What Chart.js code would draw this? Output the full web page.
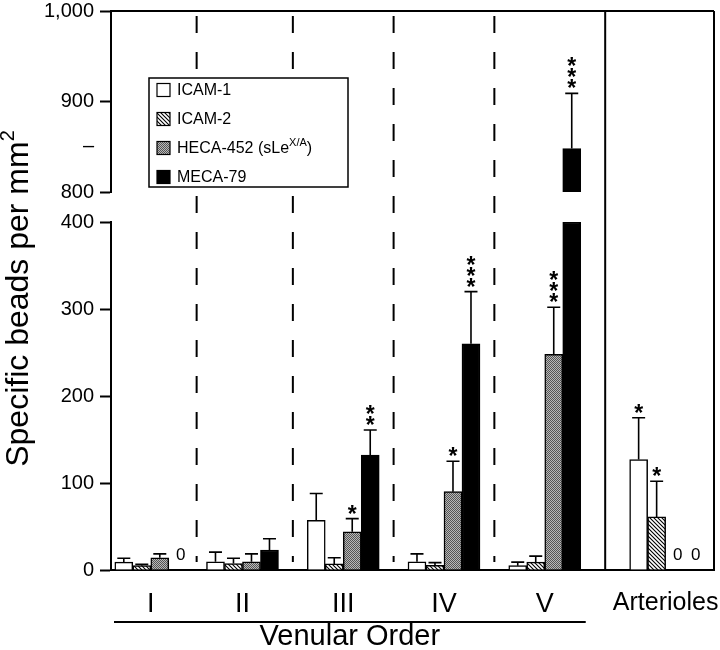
<!DOCTYPE html>
<html>
<head>
<meta charset="utf-8">
<script src="https://cdn.jsdelivr.net/npm/chart.js@4.4.1/dist/chart.umd.min.js"></script>
<style>
  body { margin: 0; background: #fff; }
  #wrap { position: relative; width: 720px; height: 650px; }
</style>
</head>
<body>
<div id="wrap"><canvas id="beadsChart"></canvas></div>
<script>
// data
const categories = ['I', 'II', 'III', 'IV', 'V', 'Arterioles'];
const seriesNames = ['ICAM-1', 'ICAM-2', 'HECA-452 (sLe^X/A^)', 'MECA-79'];

const icam1 = [9, 9.5, 57, 9.5, 5, 127];
const icam1Err = [4.5, 11, 31, 9, 4, 48];
const icam2 = [5, 7.5, 7, 5.5, 9, 61];
const icam2Err = [1.5, 6, 7, 3, 7, 41];
const heca = [14, 9.5, 44, 90, 248, 0];
const hecaErr = [4.5, 9, 15, 35, 54, 0];
const meca = [0, 23, 132, 260, 848, 0];
const mecaErr = [0, 13, 29, 60, 61, 0];

// number of asterisks above each bar
const icam1Stars = [0, 0, 0, 0, 0, 1];
const icam2Stars = [0, 0, 0, 0, 0, 1];
const hecaStars = [0, 0, 1, 1, 3, 0];
const mecaStars = [0, 0, 2, 3, 3, 0];

const lowerTicks = [0, 100, 200, 300, 400];
const upperTicks = [800, 850, 900, 1000];
const upperTickLabels = ['800', '\u2013', '900', '1,000'];

// layout
const groupX = [1.09, 2, 3, 4, 5, 6.2];
const LOW_MAX = 400, HIGH_MIN = 800, HIGH_MAX = 1000;
const FONT = '"Liberation Sans", Arial, Helvetica, sans-serif';

function makePattern(size, draw) {
    const c = document.createElement('canvas');
    c.width = size;
    c.height = size;
    const g = c.getContext('2d');
    draw(g, size);
    return g.createPattern(c, 'repeat');
}

const hatch = makePattern(4, (g, s) => {
    g.fillStyle = '#fff';
    g.fillRect(0, 0, s, s);
    g.strokeStyle = '#000';
    g.lineWidth = 1.1;
    g.beginPath();
    g.moveTo(-1, -1); g.lineTo(s + 1, s + 1);
    g.moveTo(-1, s - 1); g.lineTo(1, s + 1);
    g.moveTo(s - 1, -1); g.lineTo(s + 1, 1);
    g.stroke();
});

const stipple = makePattern(2, (g) => {
    g.fillStyle = '#b8b8b8';
    g.fillRect(0, 0, 2, 2);
    g.fillStyle = '#555';
    g.fillRect(0, 0, 1, 1);
    g.fillRect(1, 1, 1, 1);
});

const fills = ['#ffffff', hatch, stipple, '#000000'];
const values = [icam1, icam2, heca, meca];
const errors = [icam1Err, icam2Err, hecaErr, mecaErr];
const stars = [icam1Stars, icam2Stars, hecaStars, mecaStars];

const datasets = values.map((vals, i) => ({
    label: seriesNames[i].replace(/\^/g, ''),
    data: vals.map((v, j) => ({ x: groupX[j], y: Math.min(v, LOW_MAX) })),
    backgroundColor: fills[i],
    borderColor: '#000',
    borderWidth: 1.5,
    barThickness: 18,
    yAxisID: 'y',
    stack: 's' + i
}));

// top part of the broken MECA-79 bar
datasets.push({
    label: 'MECA-79 (upper)',
    data: meca.map((v, j) => ({ x: groupX[j], y: v > HIGH_MIN ? [HIGH_MIN, v] : null })),
    backgroundColor: '#000',
    borderColor: '#000',
    borderWidth: 1.5,
    barThickness: 18,
    yAxisID: 'yTop',
    stack: 's3'
});

function drawStars(ctx, x, capY, n) {
    ctx.font = 'bold 23px ' + FONT;
    ctx.textAlign = 'center';
    ctx.textBaseline = 'alphabetic';
    for (let k = 0; k < n; k++) {
        const cy = capY - 10 - 11 * k;
        ctx.fillText('*', x, cy + 13);
    }
}

function drawRichText(ctx, text, x, y, size) {
    // parts between ^ are superscript
    const parts = text.split('^');
    let cx = x;
    parts.forEach((p, k) => {
        const sup = k % 2 === 1;
        ctx.font = (sup ? Math.round(size * 0.7) : size) + 'px ' + FONT;
        ctx.fillText(p, cx, sup ? y - size * 0.4 : y);
        cx += ctx.measureText(p).width;
    });
}

const decorations = {
    id: 'decorations',
    beforeDatasetsDraw(chart) {
        const { ctx, chartArea: a, scales: { x, y } } = chart;
        ctx.save();
        ctx.strokeStyle = '#000';
        ctx.lineWidth = 2;
        // frame: top, right, arterioles separator
        const sepX = x.getPixelForValue((groupX[4] + groupX[5]) / 2);
        ctx.beginPath();
        ctx.moveTo(a.left, a.top);
        ctx.lineTo(a.right, a.top);
        ctx.moveTo(a.right, a.top);
        ctx.lineTo(a.right, a.bottom);
        ctx.moveTo(sepX, a.top);
        ctx.lineTo(sepX, a.bottom);
        ctx.stroke();
        // dashed separators between venular orders
        ctx.setLineDash([17, 19]);
        ctx.lineDashOffset = -5;
        for (let k = 0; k < 4; k++) {
            const px = x.getPixelForValue((groupX[k] + groupX[k + 1]) / 2);
            ctx.beginPath();
            ctx.moveTo(px, a.top);
            ctx.lineTo(px, y.getPixelForValue(0) - 8);
            ctx.stroke();
        }
        ctx.restore();
    },
    afterDatasetsDraw(chart) {
        const { ctx, scales: { y, yTop } } = chart;
        const upperMeta = chart.getDatasetMeta(4);
        ctx.save();
        ctx.strokeStyle = '#000';
        ctx.fillStyle = '#000';
        ctx.lineWidth = 1.6;
        values.forEach((vals, i) => {
            const meta = chart.getDatasetMeta(i);
            vals.forEach((v, j) => {
                const el = meta.data[j];
                if (v === 0) {
                    ctx.font = '17px ' + FONT;
                    ctx.textAlign = 'center';
                    ctx.textBaseline = 'middle';
                    ctx.fillText('0', el.x + 3, y.getPixelForValue(0) - 15);
                    return;
                }
                const high = v > LOW_MAX;
                const scale = high ? yTop : y;
                const bar = high ? upperMeta.data[j] : el;
                const topY = scale.getPixelForValue(v);
                const capY = scale.getPixelForValue(v + errors[i][j]);
                ctx.beginPath();
                ctx.moveTo(bar.x, topY);
                ctx.lineTo(bar.x, capY);
                ctx.moveTo(bar.x - 6.5, capY);
                ctx.lineTo(bar.x + 6.5, capY);
                ctx.stroke();
                if (stars[i][j]) drawStars(ctx, bar.x, capY, stars[i][j]);
            });
        });
        ctx.restore();
    },
    afterDraw(chart) {
        const { ctx, chartArea: a, scales: { x } } = chart;
        ctx.save();
        ctx.fillStyle = '#000';
        ctx.strokeStyle = '#000';

        // y axis title
        ctx.save();
        ctx.translate(19, (a.top + a.bottom) / 2 + 8);
        ctx.rotate(-Math.PI / 2);
        ctx.textBaseline = 'middle';
        ctx.font = '32px ' + FONT;
        const base = 'Specific beads per mm';
        const wBase = ctx.measureText(base).width;
        ctx.font = '20px ' + FONT;
        const wSup = ctx.measureText('2').width;
        ctx.textAlign = 'left';
        ctx.font = '32px ' + FONT;
        ctx.fillText(base, -(wBase + wSup) / 2, 0);
        ctx.font = '20px ' + FONT;
        ctx.fillText('2', -(wBase + wSup) / 2 + wBase, -11);
        ctx.restore();

        // venular order bracket
        const lineL = a.left + 3;
        const lineR = x.getPixelForValue(groupX[4]) + 41;
        ctx.lineWidth = 2;
        ctx.beginPath();
        ctx.moveTo(lineL, a.bottom + 52);
        ctx.lineTo(lineR, a.bottom + 52);
        ctx.stroke();
        ctx.font = '29px ' + FONT;
        ctx.textAlign = 'center';
        ctx.textBaseline = 'middle';
        ctx.fillText('Venular Order', (lineL + lineR) / 2, a.bottom + 67);

        // legend box
        const lx = a.left + 38, ly = a.top + 67, lw = 199, lh = 109;
        ctx.fillStyle = '#fff';
        ctx.fillRect(lx, ly, lw, lh);
        ctx.lineWidth = 1.5;
        ctx.strokeRect(lx, ly, lw, lh);
        seriesNames.forEach((name, i) => {
            const cy = ly + 12 + i * 29;
            ctx.fillStyle = fills[i];
            ctx.fillRect(lx + 8, cy - 6.5, 13, 13);
            ctx.lineWidth = 1.2;
            ctx.strokeRect(lx + 8, cy - 6.5, 13, 13);
            ctx.fillStyle = '#000';
            ctx.textAlign = 'left';
            ctx.textBaseline = 'middle';
            drawRichText(ctx, name, lx + 28, cy + 1, 16);
        });
        ctx.restore();
    }
};

const noLabelPadding = s => {
    s.paddingTop = 0;
    s.paddingBottom = 0;
};

const leftAxis = (extra) => Object.assign({
    type: 'linear',
    position: 'left',
    stack: 'left',
    afterFit: s => { s.width = 111; noLabelPadding(s); },
    border: { color: '#000', width: 2 },
    grid: { display: true, drawOnChartArea: false, tickLength: 11, tickWidth: 2, tickColor: '#000' },
    ticks: { padding: 6, color: '#000', font: { family: FONT, size: 20 } }
}, extra);

new Chart(document.getElementById('beadsChart').getContext('2d'), {
    type: 'bar',
    data: { datasets: datasets },
    options: {
        responsive: true,
        maintainAspectRatio: false,
        animation: false,
        events: [],
        layout: { padding: { left: 0, right: 6, top: 11, bottom: 30 } },
        plugins: {
            legend: { display: false },
            tooltip: { enabled: false }
        },
        scales: {
            x: {
                type: 'linear',
                min: 0.695,
                max: 6.68,
                offset: false,
                afterBuildTicks: s => { s.ticks = groupX.map(v => ({ value: v })); },
                afterFit: s => {
                    s.height = 50;
                    s.paddingLeft = 0;
                    s.paddingRight = 0;
                },
                grid: { display: false, drawTicks: false },
                border: { color: '#000', width: 2 },
                ticks: {
                    autoSkip: false,
                    maxRotation: 0,
                    padding: 18,
                    color: '#000',
                    font: ctx => ({ family: FONT, size: ctx.index === 5 ? 25 : 27 }),
                    callback: (v, i) => categories[i]
                }
            },
            y: leftAxis({
                min: 0,
                max: LOW_MAX,
                stackWeight: 348,
                weight: 0,
                stacked: false,
                afterBuildTicks: s => { s.ticks = lowerTicks.map(v => ({ value: v })); }
            }),
            yGap: leftAxis({
                min: 0,
                max: 1,
                stackWeight: 30,
                weight: 1,
                border: { display: false },
                grid: { display: false },
                ticks: { display: false }
            }),
            yTop: leftAxis({
                min: HIGH_MIN,
                max: HIGH_MAX,
                stackWeight: 181,
                weight: 2,
                stacked: false,
                afterBuildTicks: s => { s.ticks = upperTicks.map(v => ({ value: v })); },
                grid: {
                    display: true, drawOnChartArea: false, tickLength: 11, tickWidth: 2,
                    tickColor: ctx => (ctx.tick && ctx.tick.value === 850) ? 'rgba(0,0,0,0)' : '#000'
                },
                ticks: {
                    padding: 6, color: '#000', font: { family: FONT, size: 20 },
                    callback: (v, i) => upperTickLabels[i]
                }
            })
        }
    },
    plugins: [decorations]
});
</script>
</body>
</html>
